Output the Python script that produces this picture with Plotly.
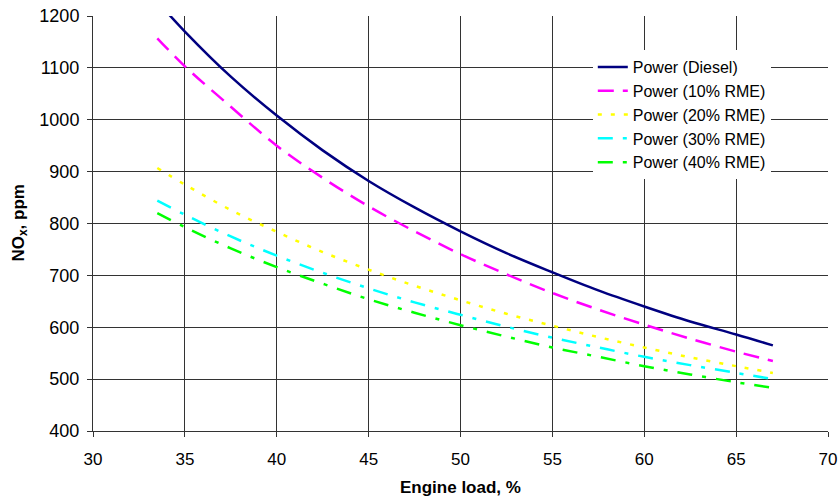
import plotly.graph_objects as go

load = [33.5, 35, 37.5, 40, 42.5, 45, 47.5, 50, 52.5, 55, 57.5, 60, 62.5, 65, 67]
diesel = [1228, 1170, 1083, 1008, 941, 882, 831, 785, 743, 706, 671, 640, 611, 586, 565]
rme10 = [1157, 1103, 1025, 950, 888, 833, 785, 741, 702, 666, 634, 605, 578, 553, 535]
rme20 = [907, 875, 826, 784, 745, 711, 680, 652, 626, 603, 581, 561, 542, 525, 512]
rme30 = [844, 817, 775, 738, 705, 675, 648, 624, 601, 580, 561, 543, 527, 512, 500]
rme40 = [820, 793, 752, 716, 684, 654, 628, 604, 582, 561, 543, 525, 509, 494, 483]

names = ["Power (Diesel)", "Power (10% RME)", "Power (20% RME)", "Power (30% RME)", "Power (40% RME)"]
series = [diesel, rme10, rme20, rme30, rme40]
colors = ["#000080", "#FF00FF", "#FFFF00", "#00FFFF", "#00FF00"]
dashes = ["solid", "16px,9px", "4px,9px", "15px,10px,4px,10px", "15px,10px,4px,10px"]

FONT = "Liberation Sans, Arial, sans-serif"

fig = go.Figure()
for i, (n, s) in enumerate(zip(names, series)):
    fig.add_trace(go.Scatter(
        x=load, y=s, name=n, mode="lines",
        line=dict(color=colors[i], width=2.5, dash=dashes[i], shape="spline"),
    ))

fig.update_layout(
    width=838, height=498,
    margin=dict(l=93, r=10, t=16, b=67),
    paper_bgcolor="white", plot_bgcolor="white",
    font=dict(family=FONT, size=16, color="black"),
    showlegend=True,
    legend=dict(
        x=0.68, y=0.918, xanchor="left", yanchor="top",
        bgcolor="white", borderwidth=0,
        font=dict(family=FONT, size=16, color="black"),
        tracegroupgap=0,
    ),
    xaxis=dict(
        range=[30, 70], dtick=5, tick0=30,
        showgrid=True, gridcolor="#333", gridwidth=1,
        showline=True, linecolor="#333", linewidth=1,
        ticks="outside", ticklen=5, tickcolor="#333",
        zeroline=False, automargin=False,
        ticklabelstandoff=8,
        tickfont=dict(family=FONT, size=17),
    ),
    yaxis=dict(
        range=[400, 1200], dtick=100, tick0=400,
        showgrid=True, gridcolor="#333", gridwidth=1,
        showline=True, linecolor="#333", linewidth=1,
        ticks="outside", ticklen=5, tickcolor="#333",
        zeroline=False, automargin=False,
        ticklabelstandoff=4,
        tickfont=dict(family=FONT, size=18),
    ),
    annotations=[
        dict(text="<b>Engine load, %</b>", xref="paper", yref="paper", x=0.5, y=0,
             xanchor="center", yanchor="middle", yshift=-56, showarrow=False,
             font=dict(family=FONT, size=17, color="black")),
        dict(text="<b>NO<sub>x</sub>, ppm</b>", xref="paper", yref="paper", x=0, y=0.5,
             xanchor="center", yanchor="middle", xshift=-74, textangle=-90, showarrow=False,
             font=dict(family=FONT, size=17, color="black")),
    ],
)

fig.write_html("out.html")
